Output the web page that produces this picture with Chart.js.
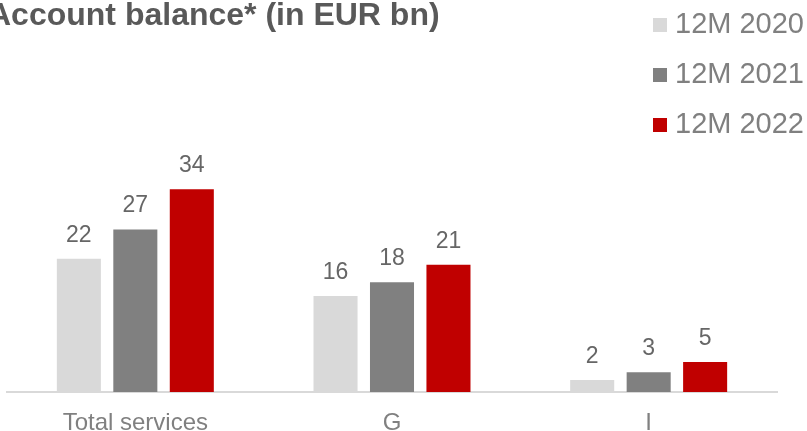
<!DOCTYPE html>
<html>
<head>
<meta charset="utf-8">
<script src="https://cdn.jsdelivr.net/npm/chart.js@4"></script>
<style>
  html, body { margin: 0; padding: 0; background: #ffffff; }
  #wrap { width: 807px; height: 431px; position: relative; }
</style>
</head>
<body>
<div id="wrap"><canvas id="c" width="807" height="431"></canvas></div>
<script>
const titleText = "Account balance* (in EUR bn)";
const categories = ["Total services", "G", "I"];
const seriesNames = ["12M 2020", "12M 2021", "12M 2022"];
const values2020 = [22.2, 16.0, 2.0];
const values2021 = [27.1, 18.3, 3.3];
const values2022 = [33.8, 21.2, 5.0];
const seriesColors = ["#d9d9d9", "#808080", "#c00000"];

const FONT = "'Liberation Sans', Arial, sans-serif";

const titlePlugin = {
  id: 'customTitle',
  afterDraw(chart) {
    const ctx = chart.ctx;
    ctx.save();
    ctx.font = "bold 32px " + FONT;
    ctx.fillStyle = "#595959";
    ctx.textAlign = "left";
    ctx.textBaseline = "alphabetic";
    ctx.fillText(titleText, -12, 25);
    ctx.restore();
  }
};

const legendPlugin = {
  id: 'customLegend',
  afterDraw(chart) {
    const ctx = chart.ctx;
    ctx.save();
    chart.data.datasets.forEach((ds, i) => {
      const cy = 25 + i * 50;
      ctx.fillStyle = ds.backgroundColor;
      ctx.fillRect(653, cy - 7, 14, 14);
      ctx.font = "29px " + FONT;
      ctx.fillStyle = "#808080";
      ctx.textAlign = "left";
      ctx.textBaseline = "middle";
      ctx.fillText(ds.label, 675, cy);
    });
    ctx.restore();
  }
};

const valueLabelPlugin = {
  id: 'valueLabels',
  afterDatasetsDraw(chart) {
    const ctx = chart.ctx;
    ctx.save();
    ctx.font = "23px " + FONT;
    ctx.fillStyle = "#666666";
    ctx.textAlign = "center";
    ctx.textBaseline = "alphabetic";
    chart.data.datasets.forEach((ds, i) => {
      const meta = chart.getDatasetMeta(i);
      meta.data.forEach((bar, j) => {
        ctx.fillText(String(Math.round(ds.data[j])), bar.x, bar.y - 17);
      });
    });
    ctx.restore();
  }
};

new Chart(document.getElementById('c'), {
  type: 'bar',
  data: {
    labels: categories,
    datasets: [
      { label: seriesNames[0], data: values2020, backgroundColor: seriesColors[0] },
      { label: seriesNames[1], data: values2021, backgroundColor: seriesColors[1] },
      { label: seriesNames[2], data: values2022, backgroundColor: seriesColors[2] }
    ]
  },
  options: {
    responsive: false,
    animation: false,
    devicePixelRatio: 1,
    layout: { padding: { left: 7, right: 30, top: 32, bottom: 0 } },
    datasets: { bar: { categoryPercentage: 0.66, barPercentage: 0.78 } },
    plugins: {
      legend: { display: false },
      title: { display: false },
      tooltip: { enabled: false }
    },
    scales: {
      x: {
        afterFit(s) { s.height = 39; },
        grid: { display: false, drawTicks: false },
        border: { display: true, color: "#d9d9d9", width: 2 },
        ticks: { color: "#808080", font: { family: FONT, size: 24 }, padding: 17 }
      },
      y: {
        display: false,
        min: 0,
        max: 60
      }
    }
  },
  plugins: [titlePlugin, legendPlugin, valueLabelPlugin]
});
</script>
</body>
</html>
